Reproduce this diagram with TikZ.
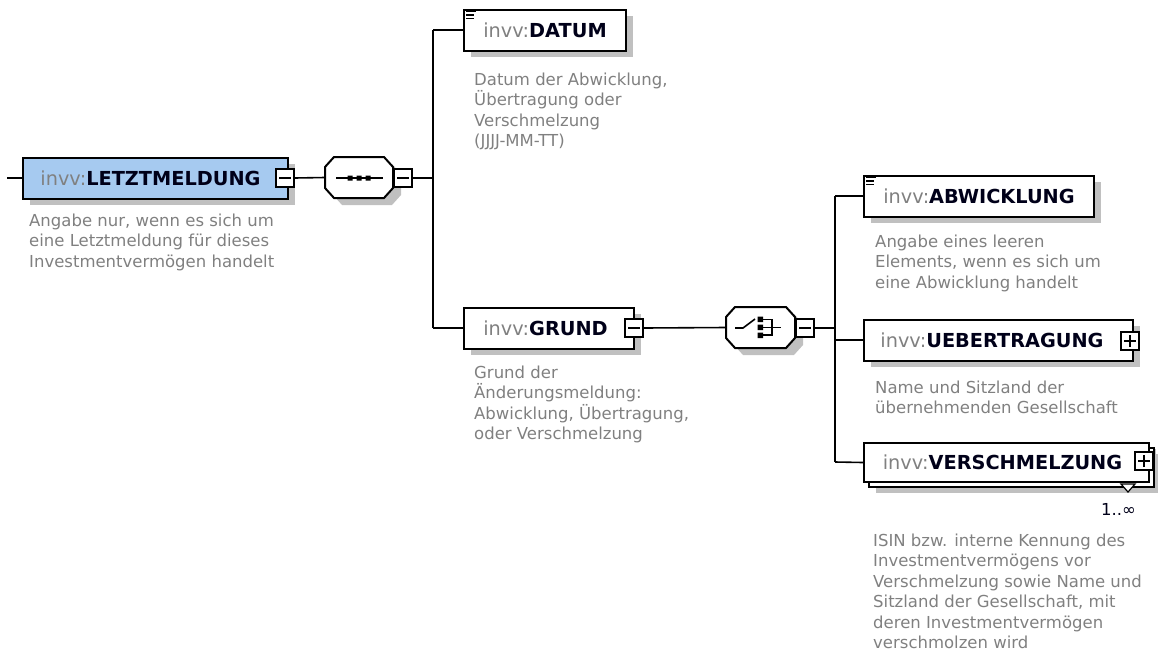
\documentclass[tikz,border=0pt]{standalone}
\usepackage{fontspec}
\setmainfont{DejaVu Sans}
\usetikzlibrary{calc}
\definecolor{descgray}{RGB}{128,128,128}
\definecolor{shadowgray}{RGB}{192,192,192}
\definecolor{bluefill}{RGB}{166,202,240}
\definecolor{nameink}{RGB}{0,0,25}
\newcommand{\elname}[1]{{\color{descgray}invv:}{\bfseries\color{nameink}#1}}
\newcommand{\octopath}[4]{(#1+9,#2) -- (#3-9,#2) -- (#3,#2+10) -- (#3,#4-10) -- (#3-9,#4) -- (#1+9,#4) -- (#1,#4-10) -- (#1,#2+10) -- cycle}
\begin{document}
\begin{tikzpicture}[x=1pt,y=-1pt,
  elem/.style={draw=black,line width=2pt,fill=white,inner sep=0pt,minimum height=41pt,anchor=west,
    font=\fontsize{19.3}{23}\selectfont,
    preaction={fill=shadowgray,transform canvas={shift={(7pt,-6pt)}}}},
  desc/.style={anchor=north west,inner sep=0pt,align=left,font=\fontsize{16.5}{20.5}\selectfont,text=descgray},
  conn/.style={line width=1.6pt},
  pmbox/.style={draw=black,line width=1.5pt,fill=white,minimum size=18pt,inner sep=0pt},
  minusbox/.style={pmbox,path picture={\draw[line width=1.5pt] ([xshift=3pt]path picture bounding box.west) -- ([xshift=-3pt]path picture bounding box.east);}},
  plusbox/.style={pmbox,path picture={\draw[line width=1.5pt] ([xshift=3pt]path picture bounding box.west) -- ([xshift=-3pt]path picture bounding box.east);
     \draw[line width=1.5pt] ([yshift=3pt]path picture bounding box.south) -- ([yshift=-3pt]path picture bounding box.north);}},
  comp/.style={inner sep=0pt,minimum width=68pt,minimum height=41pt},
  icon/.style={line width=1.6pt},
  listicon/.style={line width=1.6pt},
]
\useasboundingbox (0,0) rectangle (1158,659);

% ---------- LETZTMELDUNG ----------
\node[elem,fill=bluefill,minimum width=265pt] (letzt) at (22,178) {\elname{LETZTMELDUNG}\hspace*{10pt}};
\node[minusbox] (letztM) at (285,178) {};
\coordinate (start) at (7,178);
\draw[conn] (start) -- (letzt.west);
\node[desc] (letztD) at (29,213.5) {Angabe nur, wenn es sich um\\eine Letztmeldung für dieses\\Investmentvermögen handelt};

% ---------- sequence compositor ----------
\fill[shadowgray] \octopath{333}{164}{401}{205};
\draw[line width=2pt,fill=white] \octopath{325}{157}{393}{198};
\node[comp] (seq) at (359,177.5) {};
\draw[icon] (336,178) -- (383,178);
\fill (347.5,175.5) rectangle (352.5,180.5) (356.5,175.5) rectangle (361.5,180.5) (365.5,175.5) rectangle (370.5,180.5);
\node[minusbox] (seqM) at (403,178) {};
\draw[conn] (letztM.east) -- (seq.west);
\coordinate (j1) at (433,178);
\coordinate (j1top) at (433,30);
\coordinate (j1bot) at (433,328);
\draw[conn] (seqM.east) -- (j1);
\draw[conn] (j1top) -- (j1bot);

% ---------- DATUM ----------
\node[elem,minimum width=162pt] (datum) at (463,30) {\elname{DATUM}};
\draw[listicon] ([shift={(3,3)}]datum.north west) -- ++(10,0)
      ([shift={(3,6.5)}]datum.north west) -- ++(8,0)
      ([shift={(3,10)}]datum.north west) -- ++(8,0);
\draw[conn] (j1top) -- (datum.west);
\node[desc] (datumD) at (474,72.5) {Datum der Abwicklung,\\Übertragung oder\\Verschmelzung\\(JJJJ-MM-TT)};

% ---------- GRUND ----------
\node[elem,minimum width=170pt] (grund) at (463,328) {\elname{GRUND}\hspace*{7pt}};
\node[minusbox] (grundM) at (634,328) {};
\draw[conn] (j1bot) -- (grund.west);
\node[desc] (grundD) at (474,365.5) {Grund der\\Änderungsmeldung:\\Abwicklung, Übertragung,\\oder Verschmelzung};

% ---------- choice compositor ----------
\fill[shadowgray] \octopath{734}{314}{803}{355};
\draw[line width=2pt,fill=white] \octopath{726}{307}{795}{348};
\node[comp,minimum width=69pt] (choice) at (760.5,327.5) {};
\draw[icon] (735,328) -- (743,328) -- (755,319);
\fill (757.5,316.5) rectangle (763,322) (757.5,324.5) rectangle (763,330) (757.5,332.5) rectangle (763,338);
\draw[icon] (762,319.5) -- (772,319.5) -- (772,335) -- (762,335) (762,327.5) -- (781,327.5);
\node[minusbox] (choiceM) at (805,328) {};
\draw[conn] (grundM.east) -- (choice.west);
\coordinate (j2) at (835,328);
\coordinate (j2top) at (835,196);
\coordinate (j2bot) at (835,462);
\draw[conn] (choiceM.east) -- (j2);
\draw[conn] (j2top) -- (j2bot);

% ---------- ABWICKLUNG ----------
\node[elem,minimum width=230pt] (abw) at (863,196) {\elname{ABWICKLUNG}};
\draw[listicon] ([shift={(3,3)}]abw.north west) -- ++(10,0)
      ([shift={(3,6.5)}]abw.north west) -- ++(8,0)
      ([shift={(3,10)}]abw.north west) -- ++(8,0);
\draw[conn] (j2top) -- (abw.west);
\node[desc] (abwD) at (875,234.5) {Angabe eines leeren\\Elements, wenn es sich um\\eine Abwicklung handelt};

% ---------- UEBERTRAGUNG ----------
\node[elem,minimum width=269pt] (ueb) at (863,340) {\elname{UEBERTRAGUNG}\hspace*{13pt}};
\node[plusbox] (uebP) at (1130,341) {};
\draw[conn] (j2 |- ueb.west) -- (ueb.west);
\node[desc] (uebD) at (875,380.5) {Name und Sitzland der\\übernehmenden Gesellschaft};

% ---------- VERSCHMELZUNG ----------
\node[elem,minimum width=285pt,minimum height=39pt,
      preaction={fill=shadowgray,transform canvas={shift={(12pt,-11pt)}}},
      preaction={draw=black,line width=2pt,fill=white,transform canvas={shift={(5pt,-5pt)}}}]
      (vers) at (863,462.5) {\elname{VERSCHMELZUNG}\hspace*{8pt}};
\node[plusbox] (versP) at (1144,461) {};
\draw[line width=1.2pt,fill=white] (1121,484) -- (1135,484) -- (1128,492) -- cycle;
\draw[conn] (j2bot) -- (vers.west);
\node[anchor=base east,inner sep=0pt,font=\fontsize{16.5}{20.5}\selectfont,text=nameink] (mult) at (1136,515) {1..∞};
\node[desc] (versD) at (873,533.5) {ISIN bzw. interne Kennung des\\Investmentvermögens vor\\Verschmelzung sowie Name und\\Sitzland der Gesellschaft, mit\\deren Investmentvermögen\\verschmolzen wird};
\end{tikzpicture}
\end{document}
